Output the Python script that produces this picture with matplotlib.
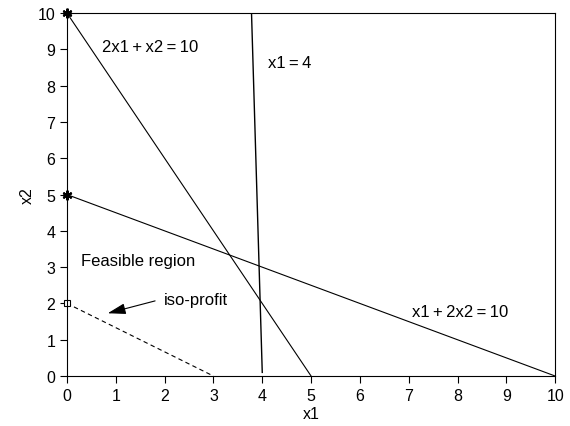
import matplotlib
matplotlib.use("Agg")
import matplotlib.pyplot as plt

plt.rcParams['font.family'] = ['Liberation Sans', 'DejaVu Sans']
plt.rcParams['font.size'] = 11

# constraint lines
c1_x = [0, 5]; c1_y = [10, 0]          # 2x1 + x2 = 10
c2_x = [0, 10]; c2_y = [5, 0]          # x1 + 2x2 = 10
c3_x = [4, 3.78]; c3_y = [0.1, 10]     # x1 = 4 (as drawn)
iso_x = [0, 3]; iso_y = [2, 0]         # iso-profit
star_x = [0, 0]; star_y = [10, 5]
sq_x = [0]; sq_y = [2]
ticks = list(range(0, 11))

fig = plt.figure(figsize=(5.7, 4.27), dpi=100)
ax = fig.add_axes([0.1175, 0.117, 0.8565, 0.85])

ax.plot(c1_x, c1_y, color='black', lw=0.8)
ax.plot(c2_x, c2_y, color='black', lw=0.8)
ax.plot(c3_x, c3_y, color='black', lw=1.0)
ax.plot(iso_x, iso_y, color='black', lw=0.8, ls=(0, (4, 3)))
ax.plot(star_x, star_y, ls='none', marker=(6, 2, 0), color='black', ms=7, mew=1.5, clip_on=False)
ax.plot(sq_x, sq_y, ls='none', marker='s', mfc='white', mec='black', ms=5, mew=0.8, clip_on=False)

fs = 12
ax.text(0.72, 9.09, "2x1\u2009+\u2009x2\u2009=\u200910", va='center', ha='left', fontsize=fs)
ax.text(4.12, 8.65, "x1\u2009=\u20094", va='center', ha='left', fontsize=fs)
ax.text(0.29, 3.17, "Feasible region", va='center', ha='left', fontsize=fs)
ax.text(7.07, 1.79, "x1\u2009+\u20092x2\u2009=\u200910", va='center', ha='left', fontsize=fs)
ax.text(1.99, 2.1, "iso-profit", va='center', ha='left', fontsize=fs)
ax.annotate("", xy=(0.78, 1.71), xytext=(1.86, 2.09),
            arrowprops=dict(arrowstyle='-|>,head_length=1.0,head_width=0.3', color='black', lw=0.8))

ax.set_xlim(0, 10)
ax.set_ylim(0, 10)
ax.set_xticks(ticks)
ax.set_yticks(ticks)
ax.tick_params(direction='out', length=5, width=0.8, labelsize=11.5)
ax.set_xlabel("x1", fontsize=11.5, labelpad=2)
ax.set_ylabel("x2", fontsize=11.5, labelpad=2)
for s in ax.spines.values():
    s.set_linewidth(0.8)

fig.savefig("out.png", dpi=100)
